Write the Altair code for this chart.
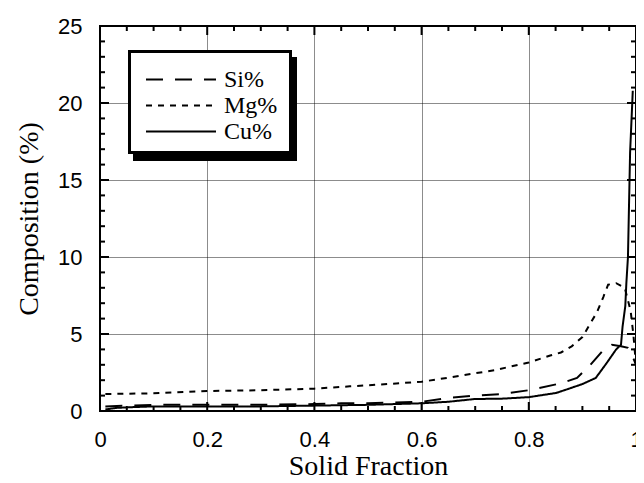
import altair as alt
import pandas as pd

W, H = 536, 385

series_names = ["Si%", "Mg%", "Cu%"]
dash_styles = [[17, 12], [6, 6], [1, 0]]

si_x = [0.01, 0.05, 0.1, 0.2, 0.3, 0.4, 0.45, 0.5, 0.6, 0.65, 0.7, 0.75, 0.8, 0.86, 0.89, 0.915, 0.94, 0.955, 0.972, 0.985, 0.993, 1.0]
si_y = [0.3, 0.35, 0.4, 0.4, 0.4, 0.45, 0.5, 0.5, 0.6, 0.85, 1.0, 1.1, 1.35, 1.8, 2.15, 3.0, 4.0, 4.3, 4.2, 4.1, 3.6, 3.0]

mg_x = [0.01, 0.1, 0.2, 0.3, 0.4, 0.466, 0.515, 0.558, 0.6, 0.657, 0.7, 0.737, 0.767, 0.8, 0.84, 0.86, 0.88, 0.9, 0.915, 0.927, 0.939, 0.948, 0.963, 0.979, 0.99, 0.995, 1.0]
mg_y = [1.1, 1.15, 1.3, 1.35, 1.45, 1.6, 1.7, 1.8, 1.9, 2.2, 2.45, 2.65, 2.9, 3.15, 3.6, 3.8, 4.2, 4.8, 5.7, 6.4, 7.4, 8.2, 8.3, 8.0, 6.5, 5.0, 3.0]

cu_x = [0.01, 0.03, 0.06, 0.1, 0.2, 0.3, 0.4, 0.5, 0.6, 0.65, 0.7, 0.75, 0.8, 0.851, 0.875, 0.9, 0.925, 0.945, 0.963, 0.972, 0.975, 0.98, 0.982, 0.985, 0.989, 0.994]
cu_y = [0.1, 0.2, 0.25, 0.3, 0.3, 0.3, 0.35, 0.4, 0.5, 0.6, 0.78, 0.8, 0.9, 1.17, 1.45, 1.75, 2.15, 3.1, 4.0, 4.3, 5.5, 6.8, 8.3, 10.0, 16.8, 20.8]

x_major = [0, 0.2, 0.4, 0.6, 0.8, 1.0]
x_minor = [0.05, 0.1, 0.15, 0.25, 0.3, 0.35, 0.45, 0.5, 0.55, 0.65, 0.7, 0.75, 0.85, 0.9, 0.95]
y_major = [0, 5, 10, 15, 20, 25]
y_minor = [1, 2, 3, 4, 6, 7, 8, 9, 11, 12, 13, 14, 16, 17, 18, 19, 21, 22, 23, 24]

rows = []
for name, xs, ys in [("Si%", si_x, si_y), ("Mg%", mg_x, mg_y), ("Cu%", cu_x, cu_y)]:
    for a, b in zip(xs, ys):
        rows.append({"series": name, "frac": a, "comp": b})
df = pd.DataFrame(rows)

x_scale = alt.Scale(domain=[0, 1], nice=False, zero=False)
y_scale = alt.Scale(domain=[0, 25], nice=False)

one = pd.DataFrame({"a": [0]})

shadow = alt.Chart(one).mark_rect(color="black").encode(
    x=alt.value(33), x2=alt.value(197), y=alt.value(31), y2=alt.value(135)
)
box = alt.Chart(one).mark_rect(fill="white", stroke="black", strokeWidth=3).encode(
    x=alt.value(29.5), x2=alt.value(190.5), y=alt.value(25.5), y2=alt.value(126.5)
)

lines = alt.Chart(df).mark_line(color="black", strokeWidth=2, clip=True).encode(
    x=alt.X("frac:Q", scale=x_scale,
            axis=alt.Axis(values=x_major, format="~g", title="Solid Fraction",
                          labelFlush=False, titleY=63, titleBaseline="alphabetic")),
    y=alt.Y("comp:Q", scale=y_scale,
            axis=alt.Axis(values=y_major, title="Composition (%)", titlePadding=14)),
    strokeDash=alt.StrokeDash(
        "series:N",
        scale=alt.Scale(domain=series_names, range=dash_styles),
        legend=alt.Legend(orient="none", legendX=45, legendY=41, title=None,
                          symbolType="stroke", symbolSize=4900, symbolStrokeWidth=2,
                          symbolStrokeColor="black", labelFont="Liberation Serif",
                          labelFontSize=24, labelColor="black", labelOffset=7,
                          clipHeight=25, padding=0, rowPadding=1),
    ),
)

def tick_layer(vals, axis, length, side):
    d = pd.DataFrame({"v": vals})
    if axis == "x":
        enc = dict(x=alt.X("v:Q", scale=x_scale))
        if side == "bottom":
            enc.update(y=alt.value(H), y2=alt.value(H - length))
        else:
            enc.update(y=alt.value(0), y2=alt.value(length))
    else:
        enc = dict(y=alt.Y("v:Q", scale=y_scale))
        if side == "left":
            enc.update(x=alt.value(0), x2=alt.value(length))
        else:
            enc.update(x=alt.value(W), x2=alt.value(W - length))
    return alt.Chart(d).mark_rule(color="black", strokeWidth=2).encode(**enc)

ticks = [
    tick_layer(x_major, "x", 9, "bottom"), tick_layer(x_minor, "x", 5, "bottom"),
    tick_layer(x_major, "x", 9, "top"), tick_layer(x_minor, "x", 5, "top"),
    tick_layer(y_major, "y", 9, "left"), tick_layer(y_minor, "y", 5, "left"),
    tick_layer(y_major, "y", 9, "right"), tick_layer(y_minor, "y", 5, "right"),
]

chart = alt.layer(shadow, box, lines, *ticks).properties(
    width=W, height=H,
    autosize=alt.AutoSizeParams(type="none"),
    padding={"left": 92, "top": 18, "right": 0, "bottom": 64},
    background="white",
).configure_view(
    stroke="black", strokeWidth=2
).configure_axis(
    grid=True, gridColor="black", gridDash=[1, 1], gridWidth=1, gridOpacity=0.9,
    domain=False, ticks=False,
    labelFont="Liberation Sans", labelFontSize=22, labelColor="black", labelPadding=18,
    titleFont="Liberation Serif", titleFontSize=28, titleFontWeight="normal", titleColor="black",
)

chart.save("out.html", embed_options={"renderer": "svg", "actions": False})
